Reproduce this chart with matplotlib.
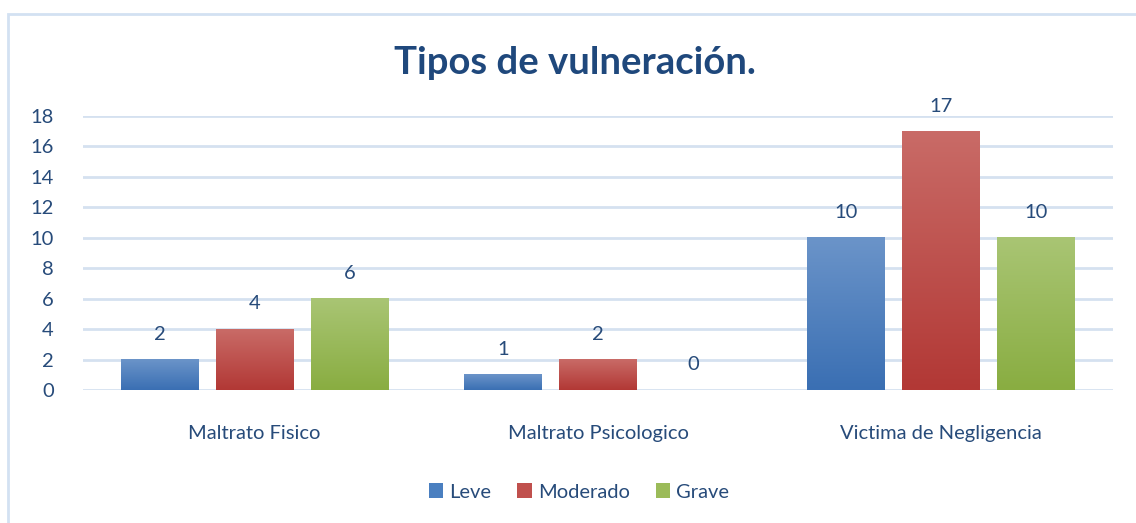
import matplotlib
matplotlib.use('Agg')
import matplotlib.pyplot as plt
from matplotlib.colors import LinearSegmentedColormap
from matplotlib.patches import Rectangle
import numpy as np

categories = ['Maltrato Fisico', 'Maltrato Psicologico', 'Victima de Negligencia']
series_names = ['Leve', 'Moderado', 'Grave']
leve = [2, 1, 10]
moderado = [4, 2, 17]
grave = [6, 0, 10]
y_ticks = [0, 2, 4, 6, 8, 10, 12, 14, 16, 18]

text_color = '#274b7a'
grid_color = '#d5e1f0'
# (top, bottom) of each bar gradient
grads = [('#6b94c9', '#3a6fb3'), ('#c96b67', '#b23835'), ('#a9c574', '#89ad41')]
legend_colors = ['#4a7fc0', '#c0504d', '#9bbb59']

plt.rcParams['font.family'] = ['Lato', 'DejaVu Sans']

fig = plt.figure(figsize=(11.36, 5.23), dpi=100)
ax = fig.add_axes([83 / 1136, 1 - 390 / 523, 1030 / 1136, 274 / 523])

# outer border of the chart
fig.patches.append(Rectangle((8 / 1136, -0.05), 1.2, 1 - 14 / 523 + 0.05,
                             transform=fig.transFigure, fill=False,
                             edgecolor='#d3e1f2', linewidth=2))

x = np.arange(len(categories))
width = 0.227
offset = 0.277
all_series = [leve, moderado, grave]

for i, vals in enumerate(all_series):
    bars = ax.bar(x + (i - 1) * offset, vals, width, color='none', zorder=3)
    cmap = LinearSegmentedColormap.from_list('g%d' % i, [grads[i][1], grads[i][0]])
    grad = np.linspace(0, 1, 256).reshape(-1, 1)
    for b, v in zip(bars, vals):
        if v > 0:
            x0, y0 = b.get_x(), b.get_y()
            ax.imshow(grad, cmap=cmap, origin='lower', aspect='auto',
                      extent=(x0, x0 + b.get_width(), y0, y0 + b.get_height()),
                      zorder=3)
        ax.text(b.get_x() + b.get_width() / 2, v + 1.65, str(v), ha='center',
                va='center', fontsize=14.5, color=text_color)
    ax.bar([0], [0], width, color=legend_colors[i], label=series_names[i])

ax.set_xlim(-0.5, 2.5)
ax.set_ylim(0, 18)
ax.set_yticks(y_ticks)
ax.set_xticks(x)
ax.set_xticklabels(categories)
ax.tick_params(axis='both', length=0, labelsize=14.5, labelcolor=text_color)
ax.tick_params(axis='y', pad=21)
ax.tick_params(axis='x', pad=25)
ax.grid(axis='y', color=grid_color, linewidth=2, zorder=0)
ax.set_axisbelow(True)
for s in ax.spines.values():
    s.set_visible(False)

fig.text(575 / 1136, 1 - 63 / 523, 'Tipos de vulneración.', ha='center', va='center',
         fontsize=27.5, fontweight='bold', color='#1f487c')

leg = fig.legend(loc='center', bbox_to_anchor=(579 / 1136, 1 - 492 / 523), ncol=3,
                 frameon=False, fontsize=14.5, handlelength=0.7, handleheight=0.7,
                 handletextpad=0.3, columnspacing=1.3)
for t in leg.get_texts():
    t.set_color(text_color)

fig.savefig('out.png', dpi=100)
